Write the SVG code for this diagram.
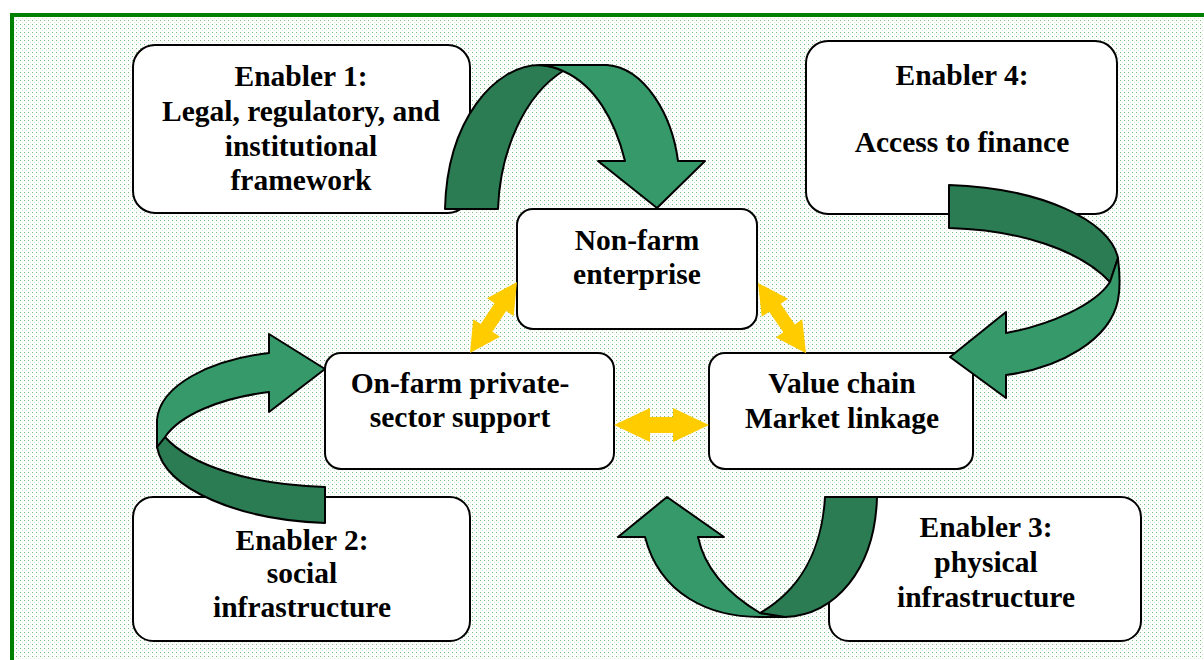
<svg xmlns="http://www.w3.org/2000/svg" width="1204" height="660" viewBox="0 0 1204 660">
<defs>
<pattern id="dots" x="0" y="0" width="4" height="4" patternUnits="userSpaceOnUse">
<rect width="4" height="4" fill="#ffffff"/>
<rect x="0" y="0" width="1" height="1" fill="#74c074"/>
<rect x="2" y="2" width="1" height="1" fill="#d2ecd2"/>
</pattern>
<style>
.box{fill:#ffffff;stroke:#000000;stroke-width:2}
.t{font-family:"Liberation Serif","Times New Roman",serif;font-weight:bold;font-size:29.5px;fill:#000000;text-anchor:middle}
.dk{fill:#2b7c53;stroke:#000000;stroke-width:2;stroke-linejoin:round}
.lt{fill:#36996a;stroke:#000000;stroke-width:2;stroke-linejoin:round}
.yl{fill:#ffcc00}
</style>
</defs>
<rect x="0" y="0" width="1204" height="660" fill="#ffffff"/>
<rect x="12" y="15" width="1200" height="660" fill="url(#dots)" stroke="#008000" stroke-width="4"/>

<g id="enabler1">
<rect class="box" x="133" y="45" width="337" height="168" rx="22"/>
<text class="t" x="301" y="86">Enabler 1:</text>
<text class="t" x="301" y="121">Legal, regulatory, and</text>
<text class="t" x="301" y="156">institutional</text>
<text class="t" x="301" y="190">framework</text>
</g>
<g id="enabler4">
<rect class="box" x="806" y="41" width="311" height="173" rx="22"/>
<text class="t" x="962" y="85">Enabler 4:</text>
<text class="t" x="962" y="152">Access to finance</text>
</g>
<g id="nonfarm">
<rect class="box" x="517" y="209" width="240" height="120" rx="16"/>
<text class="t" x="637" y="250">Non-farm</text>
<text class="t" x="637" y="284">enterprise</text>
</g>
<g id="onfarm">
<rect class="box" x="325" y="353" width="289" height="116" rx="16"/>
<text class="t" x="460" y="393">On-farm private-</text>
<text class="t" x="460" y="427">sector support</text>
</g>
<g id="valuechain">
<rect class="box" x="709" y="353" width="264" height="116" rx="16"/>
<text class="t" x="842" y="393">Value chain</text>
<text class="t" x="842" y="428">Market linkage</text>
</g>
<g id="enabler2">
<rect class="box" x="133" y="497" width="337" height="144" rx="20"/>
<text class="t" x="302" y="550">Enabler 2:</text>
<text class="t" x="302" y="583">social</text>
<text class="t" x="302" y="617">infrastructure</text>
</g>
<g id="enabler3">
<rect class="box" x="829" y="497" width="312" height="144" rx="20"/>
<text class="t" x="986" y="537">Enabler 3:</text>
<text class="t" x="986" y="572">physical</text>
<text class="t" x="986" y="607">infrastructure</text>
</g>

<g id="connectors">
<path class="dk" d="M445,209 C447,120 495,65 540,65 Q553,66 563,71 C525,95 500,150 498,209 Z"/>
<path class="lt" d="M540,65 L607,65 C645,68 672,115 678,161 L705,161 L657,208 L598,161 L625,161 C615,120 595,85 563,71 Q553,66 540,65 Z"/>
<path class="dk" d="M949,185 C1040,188 1110,220 1118,258 L1110,282 C1080,250 1020,230 949,228 Z"/>
<path class="lt" d="M1118,258 C1120,275 1120,290 1118,300 C1110,340 1060,368 1006,375 L1006,398 L950,357 L1006,312 L1006,333 C1050,325 1095,305 1110,282 Z"/>
<path class="dk" d="M157,447 C165,490 240,520 325,523 L325,487 C250,485 190,465 165,437 Z"/>
<path class="lt" d="M157,447 L157,420 C160,385 210,360 269,353 L269,334 L325,369 L269,412 L269,392 C220,398 180,415 165,437 Z"/>
<path class="lt" d="M645,537 C660,595 710,617 760,617 L785,617 L760,613 C730,595 705,570 698,537 L724,537 L667,497 L618,537 Z"/>
<path class="dk" d="M877,497 C875,570 835,615 785,617 L760,613 C800,590 822,550 825,497 Z"/>
<polygon class="yl" transform="translate(470,353) rotate(-56.5)" points="0,0 30,-16 30,-7 55,-7 55,-16 85,0 55,16 55,7 30,7 30,16"/>
<polygon class="yl" transform="translate(758,283) rotate(55.6)" points="0,0 30,-16 30,-7 55,-7 55,-16 85,0 55,16 55,7 30,7 30,16"/>
<polygon class="yl" transform="translate(614,425)" points="0,0 36,-17 36,-8 59,-8 59,-17 95,0 59,17 59,8 36,8 36,17"/>
</g>
</svg>
